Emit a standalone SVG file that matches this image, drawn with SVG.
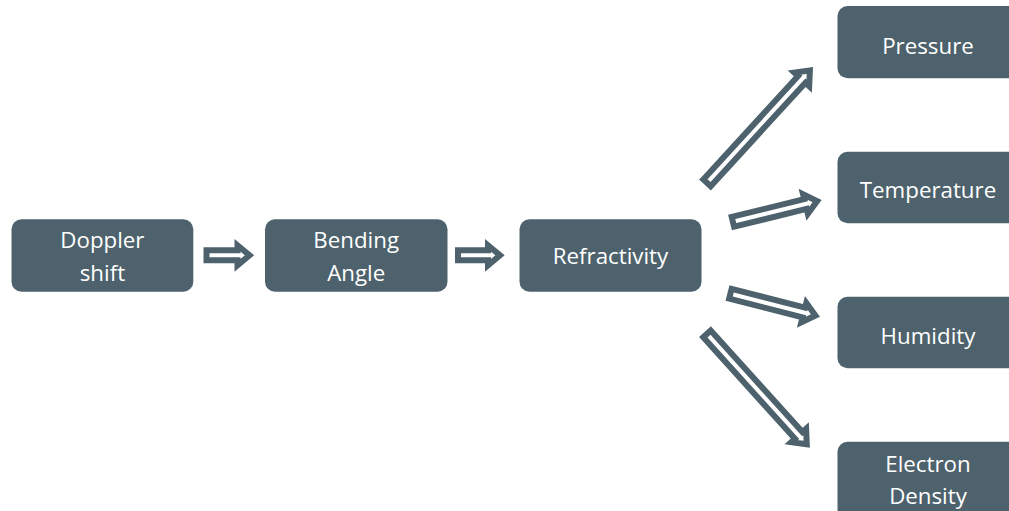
<svg xmlns="http://www.w3.org/2000/svg" width="1009" height="511" viewBox="0 0 1009 511">
  <style>
    .box { fill: #4d626c; }
    .label { fill: #ffffff; font-family: "Open Sans", "Noto Sans", "Liberation Sans", sans-serif; font-size: 22.3px; text-anchor: middle; }
    .arrow { fill: #ffffff; stroke: #4d626c; stroke-width: 6; stroke-linejoin: miter; }
  </style>
  <rect width="1009" height="511" fill="#ffffff"/>

  <g id="doppler-shift">
    <rect class="box" x="11.5" y="219.3" width="181.8" height="72.4" rx="10"/>
    <text class="label" x="102.4" y="248">Doppler</text>
    <text class="label" x="102.4" y="280.5">shift</text>
  </g>
  <g id="bending-angle">
    <rect class="box" x="265" y="219.3" width="182.5" height="72.4" rx="10"/>
    <text class="label" x="356.2" y="248">Bending</text>
    <text class="label" x="356.2" y="280.5">Angle</text>
  </g>
  <g id="refractivity">
    <rect class="box" x="519.5" y="219.3" width="182" height="72.4" rx="10"/>
    <text class="label" x="610.5" y="264">Refractivity</text>
  </g>
  <g id="pressure">
    <rect class="box" x="837.5" y="6" width="181" height="72.3" rx="10"/>
    <text class="label" x="928" y="53.5">Pressure</text>
  </g>
  <g id="temperature">
    <rect class="box" x="837.5" y="151.7" width="181" height="71.6" rx="10"/>
    <text class="label" x="928" y="197.5">Temperature</text>
  </g>
  <g id="humidity">
    <rect class="box" x="837.5" y="296.7" width="181" height="71.6" rx="10"/>
    <text class="label" x="928" y="343.5">Humidity</text>
  </g>
  <g id="electron-density">
    <rect class="box" x="837.5" y="441.7" width="181" height="80" rx="10"/>
    <text class="label" x="928" y="472">Electron</text>
    <text class="label" x="928" y="503.5">Density</text>
  </g>

  <g id="connectors">
    <!-- hollow block arrows: shaft from tail at x=0, head from Lb to tip Lt -->
    <polygon class="arrow" transform="translate(206.5,255.3)" points="0,-5 31,-5 31,-10 43,0 31,10 31,5 0,5"/>
    <polygon class="arrow" transform="translate(458,255.3)" points="0,-5 30,-5 30,-10 42,0 30,10 30,5 0,5"/>
    <polygon class="arrow" transform="translate(707,182.8) rotate(-47.5)" points="0,-5 140.3,-5 140.3,-10 152.3,0 140.3,10 140.3,5 0,5"/>
    <polygon class="arrow" transform="translate(732.9,221.8) rotate(-13.8)" points="0,-5 74.7,-5 74.7,-10 86.7,0 74.7,10 74.7,5 0,5"/>
    <polygon class="arrow" transform="translate(730.4,293.7) rotate(14.4)" points="0,-5 75.8,-5 75.8,-10 87.8,0 75.8,10 75.8,5 0,5"/>
    <polygon class="arrow" transform="translate(707,333.9) rotate(47.9)" points="0,-5 136.8,-5 136.8,-10 148.8,0 136.8,10 136.8,5 0,5"/>
  </g>
</svg>
